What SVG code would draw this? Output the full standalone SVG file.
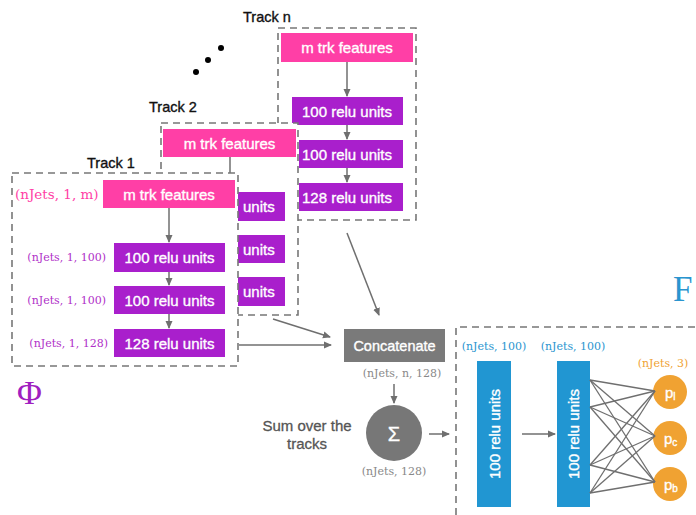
<svg xmlns="http://www.w3.org/2000/svg" width="696" height="515" viewBox="0 0 696 515">
<style>
.dash{fill:#fff;stroke:#777;stroke-width:1.6;stroke-dasharray:7 5}
.pink{fill:#ff3fa6}
.purp{fill:#a91fcc}
.blue{fill:#2196d2}
.org{fill:#f0a232}
.wt{font-family:"Liberation Sans",Arial,sans-serif;font-size:15px;fill:#fff;stroke:#fff;stroke-width:0.35}
.tt{font-family:"Liberation Sans",Arial,sans-serif;font-size:14.5px;fill:#111;stroke:#111;stroke-width:0.35}
.lb{font-family:"DejaVu Serif",serif;font-size:11px}
.con{stroke:#6f6f6f;stroke-width:1.5;fill:none}
</style>
<defs>
<marker id="ah" markerWidth="8" markerHeight="8" refX="7" refY="4" orient="auto" markerUnits="userSpaceOnUse">
<path d="M0,0.5 L8,4 L0,7.5 Z" fill="#6f6f6f"/>
</marker>
</defs>

<text class="tt" x="243" y="22">Track n</text>
<text class="tt" x="149" y="112">Track 2</text>
<text class="tt" x="87" y="168">Track 1</text>
<g id="dots" fill="#000">
<circle cx="196" cy="72" r="3"/>
<circle cx="208" cy="60" r="3"/>
<circle cx="221" cy="48" r="3"/>
</g>

<g id="trackn">
<rect class="dash" x="278" y="28" width="138" height="192"/>
<rect class="pink" x="281" y="33" width="132" height="29"/>
<text class="wt" x="347" y="53" text-anchor="middle">m trk features</text>
<rect class="purp" x="292" y="97" width="111" height="28"/>
<text class="wt" x="347" y="116.5" text-anchor="middle">100 relu units</text>
<rect class="purp" x="299" y="140" width="104" height="28"/>
<text class="wt" x="347" y="159.5" text-anchor="middle">100 relu units</text>
<rect class="purp" x="299" y="183" width="104" height="28"/>
<text class="wt" x="347" y="202.5" text-anchor="middle">128 relu units</text>
<line class="con" x1="347" y1="62" x2="347" y2="96" marker-end="url(#ah)"/>
<line class="con" x1="347" y1="125" x2="347" y2="139" marker-end="url(#ah)"/>
<line class="con" x1="347" y1="168" x2="347" y2="182" marker-end="url(#ah)"/>
</g>

<g id="track2">
<rect class="dash" x="161" y="123" width="137" height="192"/>
<rect class="pink" x="163" y="129" width="133" height="28"/>
<text class="wt" x="229.5" y="148.5" text-anchor="middle">m trk features</text>
<rect class="purp" x="238" y="192" width="47" height="29"/>
<text class="wt" x="243" y="212">units</text>
<rect class="purp" x="238" y="235" width="47" height="28"/>
<text class="wt" x="243" y="254.5">units</text>
<rect class="purp" x="238" y="277" width="47" height="29"/>
<text class="wt" x="243" y="297">units</text>
<line class="con" x1="230" y1="157" x2="230" y2="173"/>
</g>

<g id="track1">
<rect class="dash" x="12" y="173" width="226" height="193"/>
<rect class="pink" x="103" y="180" width="132" height="28"/>
<text class="wt" x="169" y="199.5" text-anchor="middle">m trk features</text>
<text class="lb" x="15" y="199" style="font-size:13.5px;fill:#ff3fa6">(nJets, 1, m)</text>
<rect class="purp" x="114" y="243" width="111" height="29"/>
<text class="wt" x="169.5" y="263" text-anchor="middle">100 relu units</text>
<rect class="purp" x="114" y="286" width="111" height="28"/>
<text class="wt" x="169.5" y="305.5" text-anchor="middle">100 relu units</text>
<rect class="purp" x="114" y="329" width="111" height="28"/>
<text class="wt" x="169.5" y="348.5" text-anchor="middle">128 relu units</text>
<text class="lb" x="106" y="261" text-anchor="end" style="fill:#b030c8">(nJets, 1, 100)</text>
<text class="lb" x="106" y="304" text-anchor="end" style="fill:#b030c8">(nJets, 1, 100)</text>
<text class="lb" x="108" y="347" text-anchor="end" style="fill:#b030c8">(nJets, 1, 128)</text>
<line class="con" x1="169" y1="208" x2="169" y2="242" marker-end="url(#ah)"/>
<line class="con" x1="169" y1="272" x2="169" y2="285" marker-end="url(#ah)"/>
<line class="con" x1="169" y1="314" x2="169" y2="328" marker-end="url(#ah)"/>
</g>

<text x="17" y="404" style="font-family:'Liberation Serif',serif;font-size:34px;fill:#a020c0">Φ</text>
<text x="673" y="301" style="font-family:'Liberation Serif',serif;font-size:35px;fill:#2a95cf">F</text>

<g id="concat">
<rect x="344" y="329" width="101" height="33" fill="#7a7a7a"/>
<text class="wt" x="394.5" y="351" text-anchor="middle" style="font-size:14.5px">Concatenate</text>
<text class="lb" x="402" y="377" text-anchor="middle" style="fill:#888">(nJets, n, 128)</text>
</g>

<g id="sum">
<circle cx="394" cy="433" r="28" fill="#777"/>
<text class="wt" x="394" y="441" text-anchor="middle" style="font-size:20px">Σ</text>
<text class="lb" x="394" y="475" text-anchor="middle" style="fill:#888">(nJets, 128)</text>
<text x="307" y="431" text-anchor="middle" style="font-family:'Liberation Sans',Arial,sans-serif;font-size:15px;fill:#555;stroke:#555;stroke-width:0.3">Sum over the</text>
<text x="307" y="449" text-anchor="middle" style="font-family:'Liberation Sans',Arial,sans-serif;font-size:15px;fill:#555;stroke:#555;stroke-width:0.3">tracks</text>
</g>

<g id="fbox">
<path d="M456,515 L456,327 L696,327" class="dash" style="fill:none"/>
</g>

<g id="dense1">
<rect class="blue" x="477" y="361" width="34" height="146"/>
<text class="wt" transform="translate(499.5,434) rotate(-90)" text-anchor="middle">100 relu units</text>
<text class="lb" x="494" y="350" text-anchor="middle" style="fill:#2a95cf">(nJets, 100)</text>
</g>
<g id="dense2">
<rect class="blue" x="557" y="361" width="33" height="146"/>
<text class="wt" transform="translate(579,434) rotate(-90)" text-anchor="middle">100 relu units</text>
<text class="lb" x="573" y="350" text-anchor="middle" style="fill:#2a95cf">(nJets, 100)</text>
</g>

<g id="outputs">
<text class="lb" x="663" y="367" text-anchor="middle" style="fill:#f0a232">(nJets, 3)</text>
<circle class="org" cx="670" cy="392" r="17"/>
<text class="wt" x="665" y="398">p<tspan dy="2" style="font-size:10px">l</tspan></text>
<circle class="org" cx="670" cy="438" r="17"/>
<text class="wt" x="664" y="444">p<tspan dy="2" style="font-size:10px">c</tspan></text>
<circle class="org" cx="670" cy="484" r="17"/>
<text class="wt" x="664" y="490">p<tspan dy="2" style="font-size:10px">b</tspan></text>
</g>

<g id="connectors">
<line class="con" x1="347" y1="233" x2="379" y2="315" marker-end="url(#ah)"/>
<line class="con" x1="273" y1="319" x2="330" y2="337" marker-end="url(#ah)"/>
<line class="con" x1="239" y1="345" x2="331" y2="345" marker-end="url(#ah)"/>
<line class="con" x1="394" y1="384" x2="394" y2="403" marker-end="url(#ah)"/>
<line class="con" x1="429" y1="434" x2="449" y2="434" marker-end="url(#ah)"/>
<line class="con" x1="522" y1="434" x2="555" y2="434" marker-end="url(#ah)"/>
<g class="con" style="stroke-width:1.3">
<line x1="590" y1="380" x2="655" y2="391"/>
<line x1="590" y1="380" x2="655" y2="436"/>
<line x1="590" y1="380" x2="655" y2="482"/>
<line x1="590" y1="407" x2="655" y2="391"/>
<line x1="590" y1="407" x2="655" y2="436"/>
<line x1="590" y1="407" x2="655" y2="482"/>
<line x1="590" y1="465" x2="655" y2="391"/>
<line x1="590" y1="465" x2="655" y2="436"/>
<line x1="590" y1="465" x2="655" y2="482"/>
<line x1="590" y1="493" x2="655" y2="391"/>
<line x1="590" y1="493" x2="655" y2="436"/>
<line x1="590" y1="493" x2="655" y2="482"/>
</g>
</g>
</svg>
